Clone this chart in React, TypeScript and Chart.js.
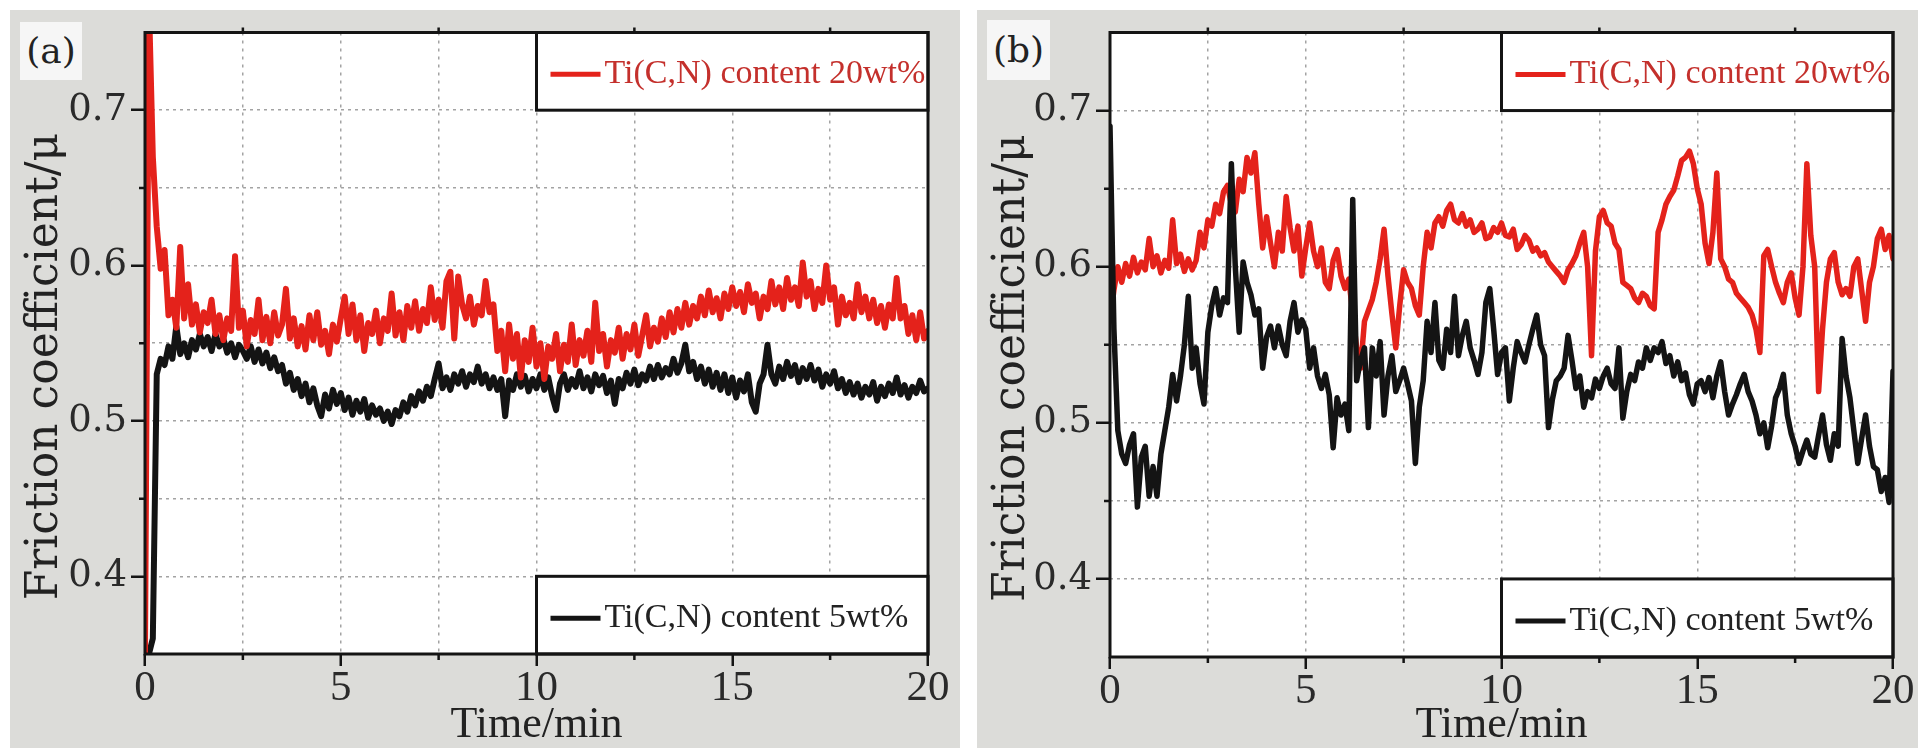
import React, { useEffect, useRef } from 'react';
import { Chart, registerables } from 'chart.js';

Chart.register(...registerables);

// ---------------- data (friction coefficient, sampled every 0.1 min) ----------------
const TIME_START = 0;
const TIME_STEP = 0.1;

const A_RED = [
  0.350, 0.770, 0.670, 0.625, 0.598, 0.610, 0.568, 0.578, 0.560, 0.612,
  0.566, 0.588, 0.562, 0.575, 0.557, 0.570, 0.563, 0.578, 0.556, 0.568,
  0.552, 0.566, 0.558, 0.606, 0.560, 0.571, 0.548, 0.565, 0.556, 0.578,
  0.552, 0.567, 0.550, 0.570, 0.555, 0.562, 0.585, 0.553, 0.566, 0.548,
  0.561, 0.546, 0.568, 0.552, 0.570, 0.549, 0.558, 0.543, 0.562, 0.551,
  0.566, 0.580, 0.556, 0.575, 0.552, 0.568, 0.545, 0.563, 0.556, 0.571,
  0.550, 0.566, 0.558, 0.582, 0.555, 0.570, 0.552, 0.574, 0.560, 0.577,
  0.558, 0.572, 0.563, 0.586, 0.565, 0.578, 0.560, 0.590, 0.596, 0.553,
  0.593, 0.575, 0.566, 0.580, 0.562, 0.574, 0.568, 0.590, 0.570, 0.575,
  0.545, 0.558, 0.532, 0.562, 0.540, 0.556, 0.528, 0.552, 0.538, 0.560,
  0.535, 0.550, 0.527, 0.548, 0.540, 0.556, 0.532, 0.549, 0.538, 0.562,
  0.536, 0.552, 0.542, 0.558, 0.538, 0.576, 0.545, 0.556, 0.535, 0.552,
  0.544, 0.560, 0.540, 0.556, 0.546, 0.562, 0.542, 0.555, 0.568, 0.548,
  0.560, 0.551, 0.566, 0.554, 0.570, 0.557, 0.572, 0.560, 0.576, 0.562,
  0.574, 0.566, 0.580, 0.568, 0.584, 0.570, 0.579, 0.566, 0.582, 0.572,
  0.586, 0.574, 0.583, 0.570, 0.588, 0.576, 0.582, 0.566, 0.580, 0.572,
  0.590, 0.575, 0.586, 0.572, 0.592, 0.578, 0.586, 0.574, 0.602, 0.580,
  0.590, 0.572, 0.585, 0.576, 0.600, 0.578, 0.586, 0.562, 0.580, 0.568,
  0.576, 0.566, 0.588, 0.570, 0.580, 0.566, 0.578, 0.563, 0.574, 0.560,
  0.575, 0.566, 0.592, 0.566, 0.574, 0.556, 0.568, 0.552, 0.570, 0.553,
  0.558,
];

const A_BLACK = [
  0.350, 0.350, 0.360, 0.530, 0.540, 0.536, 0.548, 0.540, 0.561, 0.543,
  0.550, 0.541, 0.552, 0.546, 0.556, 0.548, 0.554, 0.545, 0.556, 0.548,
  0.553, 0.544, 0.550, 0.541, 0.549, 0.545, 0.540, 0.548, 0.538, 0.546,
  0.537, 0.544, 0.534, 0.541, 0.532, 0.536, 0.524, 0.531, 0.520, 0.527,
  0.516, 0.524, 0.512, 0.521, 0.510, 0.503, 0.517, 0.508, 0.520, 0.511,
  0.518, 0.507, 0.515, 0.504, 0.513, 0.506, 0.514, 0.502, 0.510, 0.504,
  0.508, 0.500, 0.506, 0.498, 0.507, 0.503, 0.512, 0.506, 0.516, 0.510,
  0.519, 0.513, 0.522, 0.516, 0.527, 0.537, 0.521, 0.528, 0.520, 0.530,
  0.524, 0.532, 0.522, 0.530, 0.525, 0.535, 0.524, 0.530, 0.521, 0.528,
  0.520, 0.527, 0.503, 0.526, 0.520, 0.530, 0.522, 0.529, 0.519, 0.527,
  0.521, 0.530, 0.520, 0.528, 0.516, 0.507, 0.524, 0.530, 0.520, 0.527,
  0.522, 0.532, 0.521, 0.528, 0.519, 0.530, 0.523, 0.529, 0.518, 0.526,
  0.511, 0.527, 0.521, 0.531, 0.524, 0.533, 0.523, 0.530, 0.526, 0.535,
  0.527, 0.536, 0.528, 0.534, 0.530, 0.540, 0.531, 0.537, 0.549, 0.532,
  0.538, 0.527, 0.535, 0.524, 0.533, 0.522, 0.531, 0.520, 0.530, 0.518,
  0.528, 0.515, 0.526, 0.519, 0.530, 0.512, 0.506, 0.524, 0.530, 0.549,
  0.530, 0.524, 0.535, 0.527, 0.538, 0.529, 0.536, 0.525, 0.534, 0.527,
  0.536, 0.526, 0.533, 0.522, 0.530, 0.524, 0.532, 0.521, 0.527, 0.518,
  0.525, 0.517, 0.524, 0.515, 0.522, 0.517, 0.525, 0.513, 0.522, 0.516,
  0.524, 0.518, 0.528, 0.517, 0.523, 0.515, 0.522, 0.518, 0.526, 0.519,
  0.521,
];

const B_RED = [
  0.565, 0.585, 0.600, 0.590, 0.602, 0.594, 0.606, 0.596, 0.603, 0.598,
  0.618, 0.600, 0.607, 0.596, 0.604, 0.599, 0.630, 0.602, 0.608, 0.597,
  0.605, 0.598, 0.604, 0.622, 0.612, 0.630, 0.626, 0.640, 0.634, 0.648,
  0.652, 0.640, 0.635, 0.656, 0.648, 0.670, 0.660, 0.673, 0.640, 0.612,
  0.632, 0.615, 0.600, 0.622, 0.610, 0.645, 0.625, 0.610, 0.626, 0.594,
  0.612, 0.628, 0.610, 0.600, 0.612, 0.590, 0.586, 0.604, 0.611, 0.594,
  0.586, 0.592, 0.570, 0.548, 0.535, 0.565, 0.572, 0.579, 0.590, 0.605,
  0.624, 0.594, 0.570, 0.548, 0.575, 0.598, 0.590, 0.586, 0.575, 0.569,
  0.600, 0.622, 0.612, 0.628, 0.632, 0.626, 0.636, 0.640, 0.630, 0.628,
  0.634, 0.626, 0.630, 0.622, 0.624, 0.628, 0.618, 0.619, 0.625, 0.622,
  0.628, 0.620, 0.619, 0.624, 0.611, 0.614, 0.620, 0.617, 0.610, 0.612,
  0.607, 0.609, 0.603, 0.600, 0.597, 0.594, 0.590, 0.598, 0.602, 0.607,
  0.615, 0.622, 0.600, 0.543, 0.610, 0.632, 0.636, 0.628, 0.626, 0.615,
  0.611, 0.590, 0.588, 0.586, 0.580, 0.577, 0.583, 0.581, 0.575, 0.573,
  0.622, 0.630, 0.640, 0.645, 0.649, 0.658, 0.668, 0.670, 0.674, 0.666,
  0.650, 0.640, 0.615, 0.602, 0.622, 0.660, 0.605, 0.600, 0.592, 0.590,
  0.583, 0.580, 0.577, 0.574, 0.569, 0.560, 0.545, 0.607, 0.611, 0.600,
  0.590, 0.583, 0.577, 0.590, 0.596, 0.580, 0.569, 0.600, 0.666, 0.620,
  0.600, 0.520, 0.560, 0.590, 0.605, 0.609, 0.590, 0.582, 0.586, 0.581,
  0.600, 0.605, 0.585, 0.565, 0.590, 0.600, 0.618, 0.624, 0.611, 0.620,
  0.605,
];

const B_BLACK = [
  0.690, 0.560, 0.495, 0.480, 0.474, 0.486, 0.493, 0.446, 0.478, 0.485,
  0.453, 0.472, 0.453, 0.480, 0.495, 0.510, 0.531, 0.514, 0.530, 0.550,
  0.581, 0.535, 0.548, 0.525, 0.512, 0.558, 0.575, 0.586, 0.569, 0.580,
  0.577, 0.666, 0.600, 0.558, 0.603, 0.590, 0.582, 0.569, 0.573, 0.535,
  0.555, 0.562, 0.548, 0.562, 0.550, 0.543, 0.565, 0.577, 0.558, 0.566,
  0.560, 0.535, 0.548, 0.530, 0.522, 0.531, 0.518, 0.484, 0.516, 0.505,
  0.512, 0.495, 0.643, 0.527, 0.540, 0.548, 0.497, 0.548, 0.530, 0.552,
  0.505, 0.530, 0.543, 0.520, 0.527, 0.535, 0.525, 0.514, 0.474, 0.510,
  0.527, 0.565, 0.545, 0.577, 0.540, 0.535, 0.560, 0.545, 0.581, 0.543,
  0.556, 0.565, 0.548, 0.540, 0.531, 0.545, 0.577, 0.586, 0.560, 0.531,
  0.545, 0.548, 0.514, 0.535, 0.552, 0.545, 0.539, 0.550, 0.560, 0.569,
  0.550, 0.543, 0.497, 0.515, 0.527, 0.530, 0.535, 0.556, 0.540, 0.522,
  0.530, 0.510, 0.520, 0.516, 0.528, 0.522, 0.530, 0.535, 0.525, 0.522,
  0.548, 0.503, 0.520, 0.531, 0.527, 0.539, 0.535, 0.548, 0.540, 0.548,
  0.545, 0.552, 0.538, 0.543, 0.530, 0.539, 0.527, 0.532, 0.518, 0.512,
  0.525, 0.527, 0.520, 0.529, 0.516, 0.530, 0.539, 0.520, 0.505, 0.512,
  0.518, 0.525, 0.531, 0.520, 0.514, 0.505, 0.493, 0.500, 0.484, 0.498,
  0.516, 0.522, 0.531, 0.505, 0.493, 0.485, 0.474, 0.482, 0.489, 0.480,
  0.478, 0.492, 0.505, 0.486, 0.476, 0.493, 0.485, 0.554, 0.530, 0.516,
  0.495, 0.474, 0.490, 0.505, 0.485, 0.472, 0.470, 0.456, 0.465, 0.449,
  0.533,
];

const X_MIN = 0;
const X_MAX = 20;
const X_STEP = 2.5;
const X_LABELED = [0, 5, 10, 15, 20];
const Y_MIN = 0.35;
const Y_MAX = 0.75;
const Y_STEP = 0.05;
const Y_LABELED = [0.4, 0.5, 0.6, 0.7];

const X_TITLE = 'Time/min';
const Y_TITLE = 'Friction coefficient/μ';
const LEGEND_RED = 'Ti(C,N) content 20wt%';
const LEGEND_BLACK = 'Ti(C,N) content 5wt%';
// legend boxes span these data ranges
const LEGEND_X_RANGE = [10, 20];
const LEGEND_TOP_Y_RANGE = [0.75, 0.7];
const LEGEND_BOTTOM_Y_RANGE = [0.4, 0.35];

// ---------------- styles ----------------
const RED = '#e4221b';
const BLACK = '#141414';
const PANEL_GRAY = '#dcdcd9';
const SERIF = "'Liberation Serif', 'Times New Roman', serif";
const SERIF_WIDE = "'DejaVu Serif', 'Liberation Serif', serif";

const near = (a: number, b: number) => Math.abs(a - b) < 1e-6;
const toPoints = (vals: number[]) =>
  vals.map((v, i) => ({ x: Math.round((TIME_START + i * TIME_STEP) * 100) / 100, y: v }));

const decorPlugin = {
  id: 'decor',
  beforeDraw(chart: any) {
    const { ctx, chartArea: a, width, height } = chart;
    ctx.save();
    ctx.fillStyle = PANEL_GRAY;
    ctx.fillRect(0, 0, width, height);
    ctx.fillStyle = '#ffffff';
    ctx.fillRect(a.left, a.top, a.right - a.left, a.bottom - a.top);
    ctx.restore();
  },
  afterDatasetsDraw(chart: any) {
    const { ctx } = chart;
    const xs = chart.scales.x;
    const ys = chart.scales.y;
    const l = xs.getPixelForValue(LEGEND_X_RANGE[0]);
    const r = xs.getPixelForValue(LEGEND_X_RANGE[1]);
    const boxes = [
      { yr: LEGEND_TOP_Y_RANGE, text: LEGEND_RED, line: RED, color: '#c4302c' },
      { yr: LEGEND_BOTTOM_Y_RANGE, text: LEGEND_BLACK, line: BLACK, color: '#222' },
    ];
    ctx.save();
    for (const b of boxes) {
      const t = ys.getPixelForValue(b.yr[0]);
      const bt = ys.getPixelForValue(b.yr[1]);
      ctx.fillStyle = '#ffffff';
      ctx.fillRect(l, t, r - l, bt - t);
      ctx.lineWidth = 3;
      ctx.strokeStyle = BLACK;
      ctx.strokeRect(l, t, r - l, bt - t);
      const cy = (t + bt) / 2 + 3;
      ctx.beginPath();
      ctx.lineWidth = 5;
      ctx.strokeStyle = b.line;
      ctx.moveTo(l + 14, cy);
      ctx.lineTo(l + 64, cy);
      ctx.stroke();
      ctx.fillStyle = b.color;
      ctx.font = `34px ${SERIF}`;
      ctx.textBaseline = 'middle';
      ctx.textAlign = 'left';
      ctx.fillText(b.text, l + 68, cy);
    }
    ctx.restore();
  },
  afterDraw(chart: any) {
    const { ctx, chartArea: a } = chart;
    const xs = chart.scales.x;
    const ys = chart.scales.y;
    ctx.save();
    ctx.strokeStyle = BLACK;
    ctx.lineWidth = 3;
    ctx.strokeRect(a.left, a.top, a.right - a.left, a.bottom - a.top);
    // minor tick marks
    ctx.lineWidth = 2.5;
    ctx.beginPath();
    for (let v = X_MIN; v <= X_MAX + 1e-9; v += X_STEP) {
      if (X_LABELED.some((t) => near(t, v))) continue;
      const px = xs.getPixelForValue(v);
      ctx.moveTo(px, a.bottom);
      ctx.lineTo(px, a.bottom + 6);
      ctx.moveTo(px, a.top);
      ctx.lineTo(px, a.top - 5);
    }
    for (let k = 0; k <= Math.round((Y_MAX - Y_MIN) / Y_STEP); k++) {
      const v = Y_MIN + k * Y_STEP;
      if (near(v, Y_MIN) || near(v, Y_MAX) || Y_LABELED.some((t) => near(t, v))) continue;
      const py = ys.getPixelForValue(v);
      ctx.moveTo(a.left, py);
      ctx.lineTo(a.left - 6, py);
    }
    ctx.stroke();
    // y-axis title (rotated), centred slightly below the plot centre as in the figure
    const cy = ys.getPixelForValue(0.535);
    ctx.translate(36, cy);
    ctx.rotate(-Math.PI / 2);
    ctx.fillStyle = '#222';
    ctx.font = `44px ${SERIF_WIDE}`;
    ctx.textAlign = 'center';
    ctx.textBaseline = 'middle';
    ctx.fillText(Y_TITLE, 0, 0);
    ctx.restore();
  },
};

type PanelProps = {
  left: number;
  width: number;
  areaLeft: number;
  areaTop: number;
  areaRightPad: number;
  xAxisHeight: number;
  red: number[];
  black: number[];
  redOnTop: boolean;
  lineWidth: number;
  label: string;
  labelBox: { left: number; top: number; width: number; height: number };
};

function Panel(p: PanelProps) {
  const ref = useRef<HTMLCanvasElement | null>(null);
  useEffect(() => {
    if (!ref.current) return;
    const common = {
      borderWidth: p.lineWidth,
      pointRadius: 0,
      tension: 0,
      fill: false,
      borderJoinStyle: 'round',
      borderCapStyle: 'round',
    };
    const redDs = { ...common, label: LEGEND_RED, data: toPoints(p.red), borderColor: RED, backgroundColor: RED };
    const blackDs = {
      ...common,
      label: LEGEND_BLACK,
      data: toPoints(p.black),
      borderColor: BLACK,
      backgroundColor: BLACK,
    };
    const chart = new Chart(ref.current, {
      type: 'line',
      data: { datasets: p.redOnTop ? [redDs, blackDs] : [blackDs, redDs] } as any,
      options: {
        animation: false,
        responsive: false,
        maintainAspectRatio: false,
        events: [],
        layout: { padding: { left: 0, top: p.areaTop, right: p.areaRightPad, bottom: 0 } },
        plugins: { legend: { display: false }, tooltip: { enabled: false } },
        scales: {
          x: {
            type: 'linear',
            min: X_MIN,
            max: X_MAX,
            afterFit: (s: any) => {
              s.height = p.xAxisHeight;
            },
            ticks: {
              stepSize: X_STEP,
              autoSkip: false,
              maxRotation: 0,
              minRotation: 0,
              padding: 1,
              color: '#2a2a2a',
              font: { family: SERIF, size: 43, lineHeight: 1 },
              callback: (v: any) => (X_LABELED.some((t) => near(t, Number(v))) ? String(v) : ''),
            },
            grid: {
              color: (c: any) =>
                c.tick && (near(c.tick.value, X_MIN) || near(c.tick.value, X_MAX)) ? 'rgba(0,0,0,0)' : '#a3a3a3',
              lineWidth: 1.5,
              drawTicks: true,
              tickLength: 12,
              tickWidth: 2.5,
              tickBorderDash: [],
              tickColor: (c: any) =>
                c.tick && X_LABELED.some((t) => near(t, c.tick.value)) ? BLACK : 'rgba(0,0,0,0)',
            },
            border: { display: false, dash: [3, 5] },
            title: {
              display: true,
              text: X_TITLE,
              color: '#222',
              font: { family: SERIF, size: 44, lineHeight: 1 },
              padding: { top: 0, bottom: 1 },
            },
          },
          y: {
            type: 'linear',
            min: Y_MIN,
            max: Y_MAX,
            afterFit: (s: any) => {
              s.width = p.areaLeft;
            },
            ticks: {
              stepSize: Y_STEP,
              autoSkip: false,
              padding: 4,
              color: '#2a2a2a',
              font: { family: SERIF_WIDE, size: 37, lineHeight: 1 },
              callback: (v: any) => {
                const n = Number(v);
                return Y_LABELED.some((t) => near(t, n)) ? n.toFixed(1) : '';
              },
            },
            grid: {
              color: (c: any) =>
                c.tick && (near(c.tick.value, Y_MIN) || near(c.tick.value, Y_MAX)) ? 'rgba(0,0,0,0)' : '#a3a3a3',
              lineWidth: 1.5,
              drawTicks: true,
              tickLength: 14,
              tickWidth: 2.5,
              tickBorderDash: [],
              tickColor: (c: any) =>
                c.tick && Y_LABELED.some((t) => near(t, c.tick.value)) ? BLACK : 'rgba(0,0,0,0)',
            },
            border: { display: false, dash: [3, 4] },
            title: { display: false, text: Y_TITLE },
          },
        },
      } as any,
      plugins: [decorPlugin],
    });
    return () => chart.destroy();
  }, []);

  return (
    <div style={{ position: 'absolute', left: p.left, top: 10, width: p.width, height: 738 }}>
      <canvas ref={ref} width={p.width} height={738} style={{ display: 'block' }} />
      <div
        style={{
          position: 'absolute',
          left: p.labelBox.left,
          top: p.labelBox.top,
          width: p.labelBox.width,
          height: p.labelBox.height,
          background: '#f6f6f6',
          color: '#222',
          fontFamily: SERIF_WIDE,
          fontSize: 36,
          lineHeight: `${p.labelBox.height}px`,
          textAlign: 'center',
        }}
      >
        {p.label}
      </div>
    </div>
  );
}

export default function App() {
  return (
    <div
      style={{
        position: 'absolute',
        left: 0,
        top: 0,
        width: 1918,
        height: 748,
        background: '#ffffff',
        overflow: 'hidden',
      }}
    >
      <Panel
        left={10}
        width={950}
        areaLeft={135}
        areaTop={13}
        areaRightPad={32}
        xAxisHeight={94}
        red={A_RED}
        black={A_BLACK}
        redOnTop={true}
        lineWidth={6}
        label="(a)"
        labelBox={{ left: 10, top: 12, width: 62, height: 58 }}
      />
      <Panel
        left={977}
        width={941}
        areaLeft={133}
        areaTop={15}
        areaRightPad={25}
        xAxisHeight={91}
        red={B_RED}
        black={B_BLACK}
        redOnTop={false}
        lineWidth={5.5}
        label="(b)"
        labelBox={{ left: 10, top: 10, width: 63, height: 60 }}
      />
    </div>
  );
}
